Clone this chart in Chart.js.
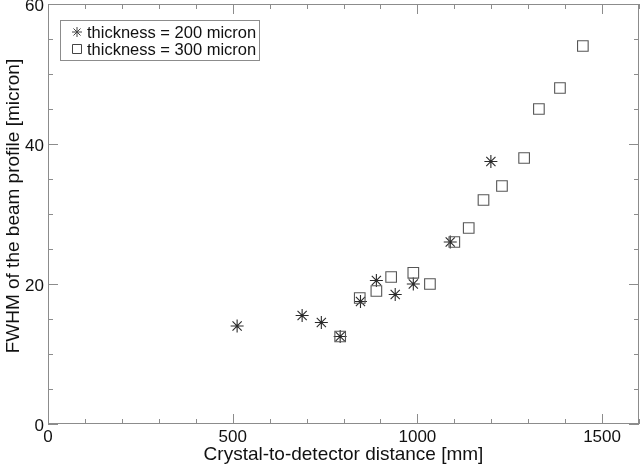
<!DOCTYPE html>
<html>
<head>
<meta charset="utf-8">
<script src="https://cdn.jsdelivr.net/npm/chart.js@4/dist/chart.umd.min.js"></script>
<style>
html, body { margin: 0; padding: 0; background: #fff; }
#wrap { width: 640px; height: 466px; }
</style>
</head>
<body>
<div id="wrap"><canvas id="c"></canvas></div>
<script>
// data
var dist200 = [512, 688, 740, 791, 846, 889, 940, 989, 1089, 1199];
var fwhm200 = [14, 15.5, 14.5, 12.5, 17.5, 20.5, 18.5, 20, 26, 37.5];
var dist300 = [791, 844, 889, 929, 989, 1034, 1100, 1139, 1179, 1229, 1289, 1329, 1386, 1448];
var fwhm300 = [12.5, 18, 19, 21, 21.6, 20, 26, 28, 32, 34, 38, 45, 48, 54];
var xTicks = [0, 500, 1000, 1500];
var yTicks = [0, 20, 40, 60];
var seriesNames = ['thickness = 200 micron', 'thickness = 300 micron'];

var FONT = '"Liberation Sans", Arial, Helvetica, sans-serif';
var AXIS = '#8c8c8c';

function toPoints(xs, ys) {
    var out = [];
    for (var i = 0; i < xs.length; i++) {
        out.push({ x: xs[i], y: ys[i] });
    }
    return out;
}

// frame, inward ticks on all four sides, and the boxed legend
var framePlugin = {
    id: 'frame',
    afterDraw: function(chart) {
        var ctx = chart.ctx;
        var a = chart.chartArea;
        var sx = chart.scales.x, sy = chart.scales.y;
        ctx.save();
        ctx.strokeStyle = AXIS;
        ctx.lineWidth = 1;
        ctx.strokeRect(Math.round(a.left) + 0.5, Math.round(a.top) + 0.5,
            Math.round(a.right - a.left) - 1, Math.round(a.bottom - a.top) - 1);
        ctx.beginPath();
        for (var v = sx.min; v <= sx.max; v += 100) {
            var px = Math.round(sx.getPixelForValue(v)) + 0.5;
            var len = (v % 500 === 0) ? 10 : 5;
            ctx.moveTo(px, a.bottom); ctx.lineTo(px, a.bottom - len);
            ctx.moveTo(px, a.top); ctx.lineTo(px, a.top + len);
        }
        for (var w = sy.min; w <= sy.max; w += 5) {
            var py = Math.round(sy.getPixelForValue(w)) + 0.5;
            var l2 = (w % 20 === 0) ? 10 : 5;
            ctx.moveTo(a.left, py); ctx.lineTo(a.left + l2, py);
            ctx.moveTo(a.right, py); ctx.lineTo(a.right - l2, py);
        }
        ctx.stroke();

        // legend box
        var bx = 60.5, by = 20.5, bw = 199, bh = 40;
        ctx.fillStyle = '#fff';
        ctx.fillRect(bx, by, bw, bh);
        ctx.strokeStyle = AXIS;
        ctx.strokeRect(bx, by, bw, bh);
        ctx.font = '16.5px ' + FONT;
        ctx.fillStyle = '#111';
        ctx.textBaseline = 'middle';
        ctx.textAlign = 'left';
        var rows = [32, 49];
        for (var i = 0; i < seriesNames.length; i++) {
            var cy = rows[i], cx = 77;
            ctx.strokeStyle = '#444';
            ctx.beginPath();
            if (i === 0) {
                var r = 5;
                ctx.moveTo(cx - r, cy); ctx.lineTo(cx + r, cy);
                ctx.moveTo(cx, cy - r); ctx.lineTo(cx, cy + r);
                var d = r * Math.SQRT1_2;
                ctx.moveTo(cx - d, cy - d); ctx.lineTo(cx + d, cy + d);
                ctx.moveTo(cx - d, cy + d); ctx.lineTo(cx + d, cy - d);
            } else {
                ctx.rect(cx - 4.5, cy - 4.5, 9, 9);
            }
            ctx.stroke();
            ctx.fillText(seriesNames[i], 87, cy + 1);
        }
        ctx.restore();
    }
};

var chart = new Chart(document.getElementById('c'), {
    type: 'scatter',
    data: {
        datasets: [
            {
                label: seriesNames[1],
                data: toPoints(dist300, fwhm300),
                pointStyle: 'rect',
                pointRadius: 7.5,
                pointHoverRadius: 7.5,
                borderColor: '#555',
                backgroundColor: 'rgba(0,0,0,0)',
                borderWidth: 1.1
            },
            {
                label: seriesNames[0],
                data: toPoints(dist200, fwhm200),
                pointStyle: 'star',
                pointRadius: 6.5,
                pointHoverRadius: 6.5,
                borderColor: '#2a2a2a',
                backgroundColor: '#2a2a2a',
                borderWidth: 1.1
            }
        ]
    },
    options: {
        responsive: true,
        maintainAspectRatio: false,
        animation: false,
        events: [],
        layout: { autoPadding: false, padding: { top: 4, right: 1, left: 0, bottom: 0 } },
        plugins: {
            legend: { display: false },
            tooltip: { enabled: false }
        },
        scales: {
            x: {
                type: 'linear',
                min: 0,
                max: 1600,
                afterBuildTicks: function(s) {
                    s.ticks = xTicks.map(function(v) { return { value: v }; });
                },
                afterFit: function(s) {
                    s.height = 42;
                    s.paddingLeft = 0; s.paddingRight = 0;
                },
                grid: { display: false, drawTicks: false },
                border: { display: false },
                ticks: {
                    padding: 3,
                    maxRotation: 0,
                    color: '#111',
                    font: { family: FONT, size: 17 },
                    callback: function(v) { return String(v); }
                },
                title: {
                    display: true,
                    text: 'Crystal-to-detector distance [mm]',
                    color: '#111',
                    padding: 0,
                    font: { family: FONT, size: 19 }
                }
            },
            y: {
                type: 'linear',
                min: 0,
                max: 60,
                afterBuildTicks: function(s) {
                    s.ticks = yTicks.map(function(v) { return { value: v }; });
                },
                afterFit: function(s) {
                    s.width = 48;
                    s.paddingTop = 0; s.paddingBottom = 0;
                },
                grid: { display: false, drawTicks: false },
                border: { display: false },
                ticks: {
                    padding: 4,
                    labelOffset: 2,
                    color: '#111',
                    font: { family: FONT, size: 17 },
                    callback: function(v) { return String(v); }
                },
                title: {
                    display: true,
                    text: '   FWHM of the beam profile [micron]',
                    color: '#111',
                    padding: { top: 2, bottom: 0 },
                    font: { family: FONT, size: 19 }
                }
            }
        }
    },
    plugins: [framePlugin]
});
</script>
</body>
</html>
